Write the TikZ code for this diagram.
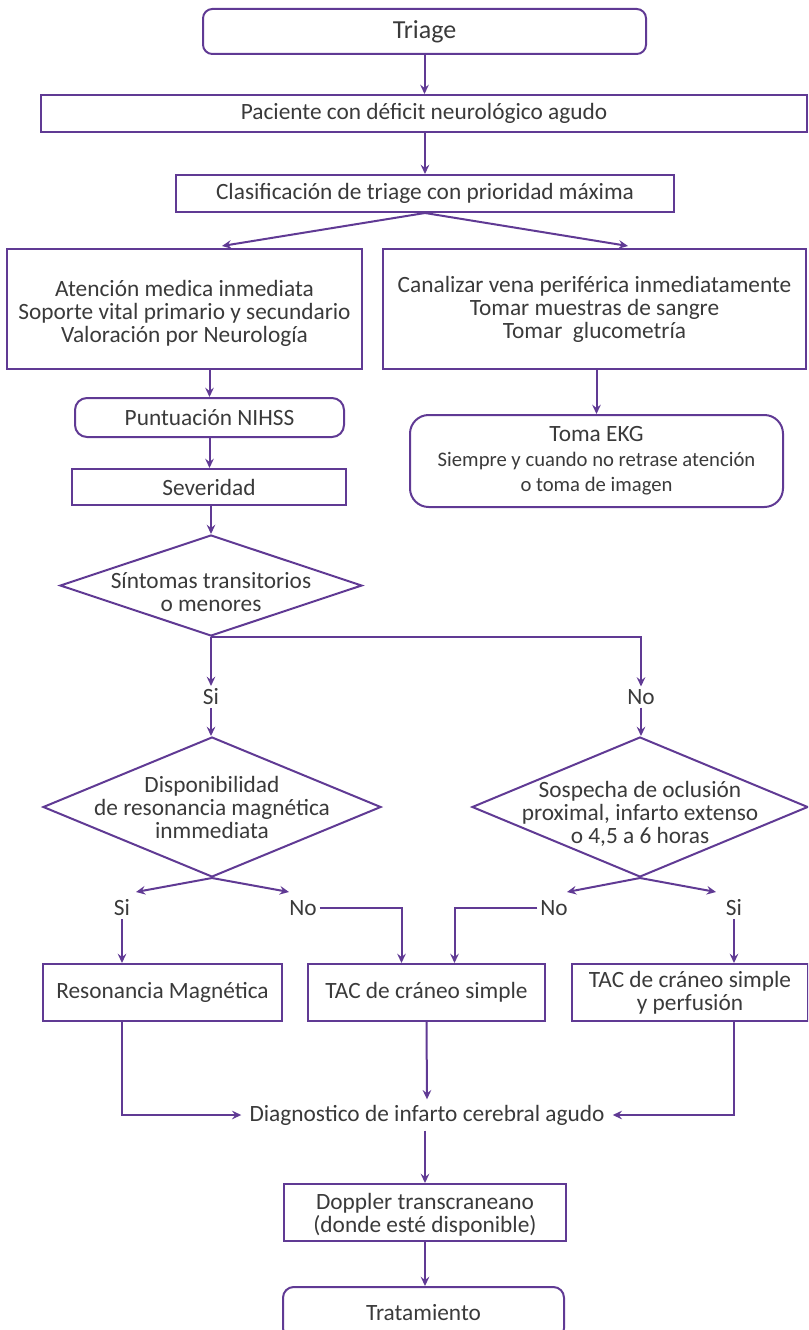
\documentclass[tikz,border=0pt]{standalone}
\usepackage{fontspec}
\setmainfont{Carlito}
\usetikzlibrary{arrows.meta,shapes.geometric,calc}
\definecolor{lc}{RGB}{96,58,148}
\definecolor{tc}{RGB}{58,58,58}
\def\u{0.75pt}
\begin{document}
\begin{tikzpicture}[x=0.75pt,y=-0.75pt,
  every node/.style={text=tc,font=\fontsize{17.5}{17.25}\selectfont,align=center},
  box/.style 2 args={draw=lc,line width=1.5pt,minimum width=#1*\u,minimum height=#2*\u,inner sep=0pt},
  dia/.style 2 args={draw=lc,line width=1.5pt,diamond,minimum width=#1*\u,minimum height=#2*\u,inner sep=0pt},
  lab/.style={inner sep=2pt},
  arr/.style={draw=lc,line width=1.5pt,-{Stealth[length=7pt,width=6.5pt,inset=2.5pt]}},
  ln/.style={draw=lc,line width=1.5pt}
]
\useasboundingbox (0,0) rectangle (808,1330);
\clip (0,0) rectangle (808,1330);

\node[box={443}{45},rounded corners=7pt,font=\fontsize{19.5}{20}\selectfont] (triage) at (424.5,31.5) {\raisebox{-1.5pt}{Triage}};
\node[box={766}{37}] (pac) at (424,113.5) {\raisebox{-1.5pt}{Paciente con déficit neurológico agudo}};
\node[box={498}{37}] (clas) at (425,193.5) {\raisebox{-1.5pt}{Clasificación de triage con prioridad máxima}};
\node[box={355}{120},label={[yshift=-3pt]center:{Atención medica inmediata\\Soporte vital primario y secundario\\Valoración por Neurología}}] (lbox) at (184.5,309) {};
\node[box={423}{120}] (rbox) at (594.5,309) {Canalizar vena periférica inmediatamente\\Tomar muestras de sangre\\Tomar~ glucometría};
\node[box={269}{39},rounded corners=9pt] (nihss) at (209.5,417.5) {\raisebox{-1pt}{Puntuación NIHSS}};
\node[box={274}{36}] (sev) at (209,487) {\raisebox{-1.5pt}{Severidad}};
\node[box={373}{92},rounded corners=14pt] (ekg) at (596.5,461) {\raisebox{-1pt}{Toma EKG}\\[2pt]{\fontsize{15.5}{18}\selectfont Siempre y cuando no retrase atención}\\[2pt]{\fontsize{15.5}{18}\selectfont o toma de imagen}};

\node[dia={302}{101},label={[yshift=-5pt]center:{Síntomas transitorios\\o menores}}] (d1) at (211,585.5) {};
\node[lab] (si1) at (211,697) {Si};
\node[lab] (no1) at (641,697) {No};
\node[dia={338}{140},label={center:{Disponibilidad\\de resonancia magnética\\inmmediata}}] (d2) at (212,807) {};
\node[dia={336}{140},label={[yshift=-5pt]center:{Sospecha de oclusión\\proximal, infarto extenso\\o 4,5 a 6 horas}}] (d3) at (640,807) {};
\node[lab] (si2) at (122,908) {Si};
\node[lab] (no2) at (303,908) {No};
\node[lab] (no3) at (554,908) {No};
\node[lab] (si3) at (734,908) {Si};
\node[box={239}{57}] (rm) at (162.5,992.5) {\raisebox{-1pt}{Resonancia Magnética}};
\node[box={237}{57}] (tac) at (426.5,992.5) {\raisebox{-1pt}{TAC de cráneo simple}};
\node[box={236}{57}] (tacp) at (690,992.5) {TAC de cráneo simple\\y perfusión};
\node[inner xsep=6pt,inner ysep=4pt] (diag) at (427,1115) {\raisebox{-1.5pt}{Diagnostico de infarto cerebral agudo}};
\node[box={282}{57},font=\fontsize{17.5}{15.75}\selectfont,label={[yshift=-2pt]center:{Doppler transcraneano\\(donde esté disponible)}}] (dop) at (425,1212.5) {};
\node[box={281}{52},rounded corners=8pt] (trat) at (423.5,1313) {\raisebox{-1pt}{Tratamiento}};

\coordinate (cl) at (222,246);
\coordinate (cr) at (628,246);
\coordinate (d2l) at (136,892);
\coordinate (d2r) at (289,892);
\coordinate (d3l) at (567,892);
\coordinate (d3r) at (716,892);

\draw[arr] (triage.south) -- (triage.south |- pac.north);
\draw[arr] (pac.south -| clas.north) -- (clas.north);
\draw[arr] (clas.south) -- (cl);
\draw[arr] (clas.south) -- (cr);
\draw[arr] (lbox.south -| nihss.north) -- (nihss.north);
\draw[arr] (rbox.south -| ekg.north) -- (ekg.north);
\draw[arr] (nihss.south) -- (nihss.south |- sev.north);
\draw[arr] (sev.south -| d1.north) -- (d1.north);
\draw[arr] (d1.south) -- (si1.north);
\draw[arr] (d1.south) -| (no1.north);
\draw[arr] (si1.south) -- (si1.south |- d2.north);
\draw[arr] (no1.south) -- (no1.south |- d3.north);
\draw[arr] (d2.south) -- (d2l);
\draw[arr] (d2.south) -- (d2r);
\draw[arr] (d3.south) -- (d3l);
\draw[arr] (d3.south) -- (d3r);
\draw[arr] (si2.south) -- (si2.south |- rm.north);
\draw[arr] (no2.east) -| ($(tac.north)+(-25,0)$);
\draw[arr] (no3.west) -| ($(tac.north)+(28,0)$);
\draw[arr] (si3.south) -- (si3.south |- tacp.north);
\draw[arr] (si2.south |- rm.south) |- (diag.west);
\draw[arr] (tac.south) -- (diag.north);
\draw[arr] (si3.south |- tacp.south) |- (diag.east);
\draw[arr] (dop.north |- diag.south) -- (dop.north);
\draw[arr] (dop.south) -- (dop.south |- trat.north);
\end{tikzpicture}
\end{document}
